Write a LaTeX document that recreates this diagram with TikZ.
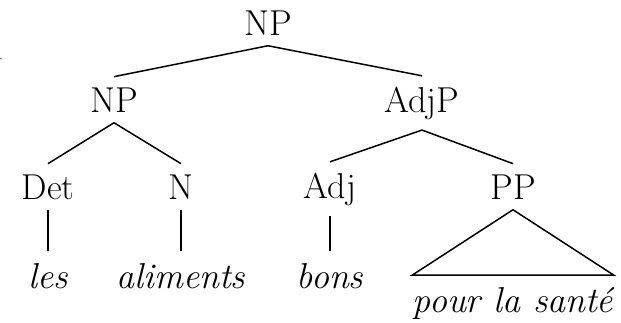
\documentclass[tikz,border=0pt]{standalone}
\begin{document}
\begin{tikzpicture}[x=1pt,y=-1pt,line width=1.5pt,
  cat/.style={font=\fontsize{36}{43}\selectfont, inner xsep=2pt, inner ysep=10pt, anchor=base},
  leaf/.style={font=\fontsize{36}{43}\selectfont\itshape, inner xsep=0pt, inner ysep=11pt, anchor=base}]
\useasboundingbox (0,0) rectangle (621,322);
\node[cat] (np0) at (268,35) {NP};
\node[cat] (np1) at (114,112) {NP};
\node[cat] (adjp) at (422,112) {AdjP};
\node[cat] (det) at (48,199) {Det};
\node[cat] (n) at (181,199) {N};
\node[cat] (adj) at (330,198) {Adj};
\node[cat] (pp) at (513,199) {PP};
\node[leaf] (les) at (48,288) {les};
\node[leaf] (ali) at (181,288) {aliments};
\node[leaf] (bons) at (330,288) {bons};
\node[leaf] (pls) at (513,312) {pour la sant\'e};
\draw (np0.south) -- (np1.north);
\draw (np0.south) -- (adjp.north);
\draw (np1.south) -- (det.north);
\draw (np1.south) -- (n.north);
\draw (adjp.south) -- (adj.north);
\draw (adjp.south) -- (pp.north);
\draw (det.south) -- (les.north);
\draw (n.south) -- (ali.north);
\draw (adj.south) -- (bons.north);
\draw[line join=miter] (pp.south) -- (pls.north east) -- (pls.north west) -- cycle;
\draw[gray,line width=1pt] (0,58) -- (2,58);
\end{tikzpicture}
\end{document}
